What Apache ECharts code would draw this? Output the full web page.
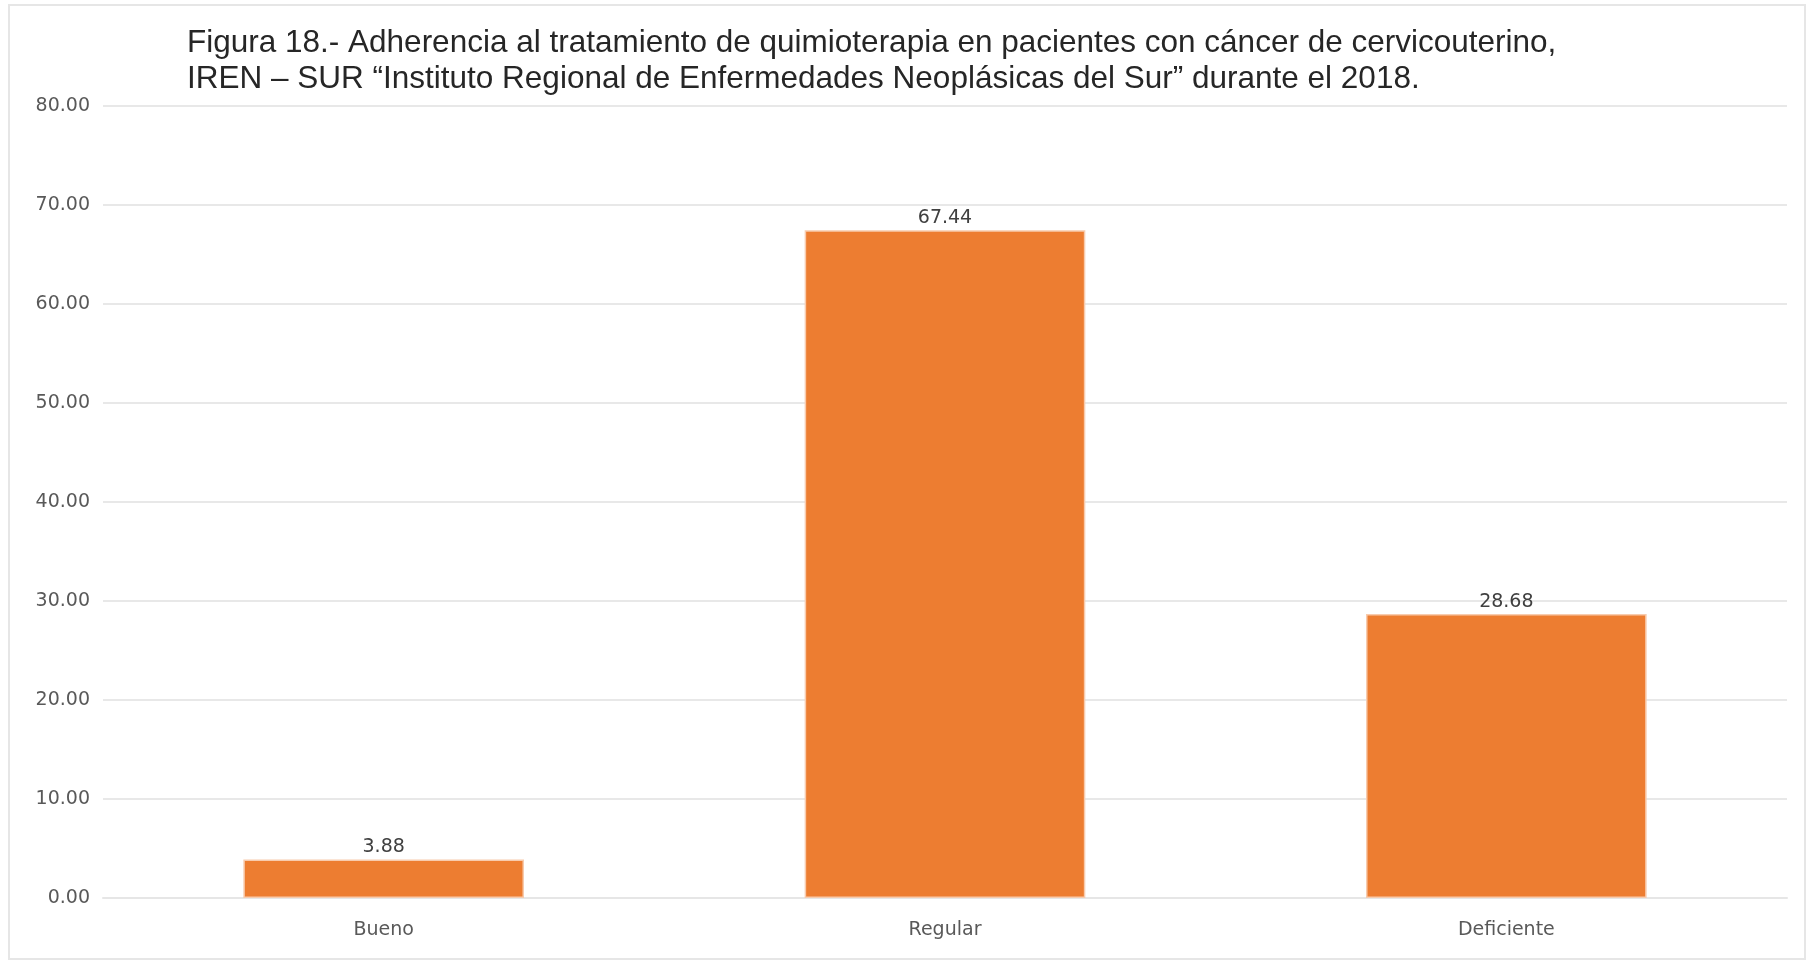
<!DOCTYPE html>
<html>
<head>
<meta charset="utf-8">
<script src="https://cdn.jsdelivr.net/npm/echarts@6/dist/echarts.min.js"></script>
<style>
html,body{margin:0;padding:0;background:#fff;}
#chart{width:1809px;height:963px;}
</style>
</head>
<body>
<div id="chart"></div>
<script>
const titleLines = [
  "Figura 18.- Adherencia al tratamiento de quimioterapia en pacientes con cáncer de cervicouterino,",
  "IREN – SUR “Instituto Regional de Enfermedades Neoplásicas del Sur” durante el 2018."
];
const categories = ["Bueno", "Regular", "Deficiente"];
const values = [3.88, 67.44, 28.68];
const yMin = 0, yMax = 80, yStep = 10;

const chart = echarts.init(document.getElementById('chart'), null, {renderer: 'canvas'});
chart.setOption({
  backgroundColor: '#ffffff',
  animation: false,
  graphic: [{
    type: 'rect',
    shape: {x: 9, y: 5, width: 1796, height: 954},
    style: {fill: 'none', stroke: '#e6e6e6', lineWidth: 2},
    silent: true, z: -1
  }],
  title: {
    text: titleLines.join('\n'),
    left: 182,
    top: 20,
    textStyle: {
      fontFamily: 'Liberation Sans, Arial, sans-serif',
      fontSize: 31.5,
      fontWeight: 'normal',
      color: '#262626',
      lineHeight: 36
    }
  },
  grid: {left: 103, right: 22, top: 106, bottom: 65, containLabel: false},
  xAxis: {
    type: 'category',
    data: categories,
    axisLine: {show: true, lineStyle: {color: '#e6e6e6', width: 2}},
    axisTick: {show: false},
    axisLabel: {
      fontFamily: 'DejaVu Sans, sans-serif',
      fontSize: 19,
      color: '#595959',
      margin: 23
    }
  },
  yAxis: {
    type: 'value',
    min: yMin, max: yMax, interval: yStep,
    axisLine: {show: false},
    axisTick: {show: false},
    splitLine: {lineStyle: {color: '#e8e8e8', width: 2}},
    axisLabel: {
      fontFamily: 'DejaVu Sans, sans-serif',
      fontSize: 19,
      color: '#595959',
      margin: 13,
      formatter: v => v.toFixed(2)
    }
  },
  series: [{
    type: 'bar',
    data: values,
    barWidth: '50%',
    itemStyle: {color: '#ED7D31', borderColor: '#F8CBAD', borderWidth: 1.5},
    label: {
      show: true,
      position: 'top',
      distance: 3,
      fontFamily: 'DejaVu Sans, sans-serif',
      fontSize: 19,
      color: '#404040',
      formatter: p => p.value.toFixed(2)
    }
  }]
});
</script>
</body>
</html>
